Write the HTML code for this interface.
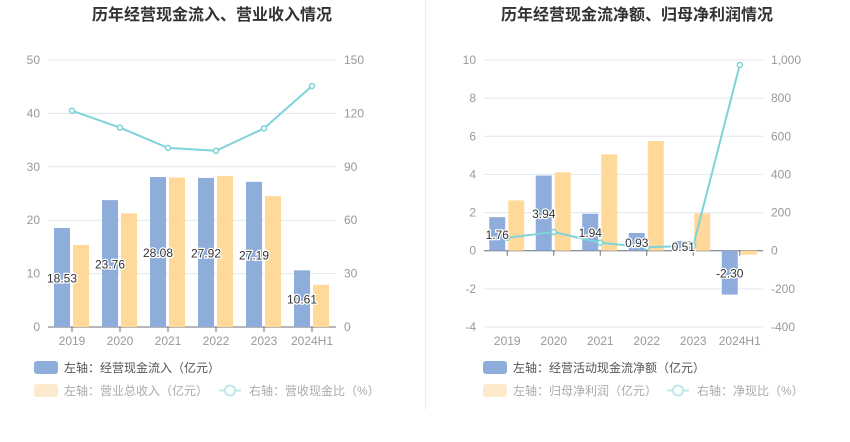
<!DOCTYPE html>
<html><head><meta charset="utf-8"><style>
body{margin:0;background:#fff;width:850px;height:437px;overflow:hidden;font-family:"Liberation Sans","Noto Sans CJK SC",sans-serif}
svg text{font-family:"Liberation Sans","Noto Sans CJK SC",sans-serif}
</style></head><body>
<svg id="c" width="850" height="437">
<line x1="425.5" y1="0" x2="425.5" y2="410" stroke="#eee"/>
</svg>
<script>
const cats=["2019","2020","2021","2022","2023","2024H1"];
const inflow=[18.53,23.76,28.08,27.92,27.19,10.61];
const revenue=[15.36,21.3,28.0,28.3,24.5,7.9];
const cashRatio=[121.5,112,100.6,99,111.6,135.4];
const leftTicksA=[0,10,20,30,40,50];
const rightTicksA=[0,30,60,90,120,150];
const netCash=[1.76,3.94,1.94,0.93,0.51,-2.30];
const netProfit=[2.64,4.11,5.05,5.75,1.96,-0.21];
const netRatio=[68,98,42,18,26,974];
const leftTicksB=[-4,-2,0,2,4,6,8,10];
const rightTicksB=[-400,-200,0,200,400,600,800,1000];
const svg=document.getElementById('c');
const NS="http://www.w3.org/2000/svg";
function mk(t,a,p){const e=document.createElementNS(NS,t);for(const k in a)e.setAttribute(k,a[k]);(p||svg).appendChild(e);return e;}
function txt(x,y,s,a){const e=mk('text',Object.assign({x:x,y:y},a));e.textContent=s;return e;}
function chart(o){
  const g=mk('g',{});
  
  
  const t=txt(o.cx,20,o.title,{'text-anchor':'middle','font-size':16,'font-weight':'bold',fill:'#333'});
  
  
  const top=60,bot=327,x0=o.x0,x1=o.x1,n=cats.length,bw=(x1-x0)/n;
  const yl=v=>bot-(v-o.lmin)/(o.lmax-o.lmin)*(bot-top);
  const yr=v=>bot-(v-o.rmin)/(o.rmax-o.rmin)*(bot-top);
  o.lt.forEach((v,i)=>{
    const y=yl(v);
    const l=mk('line',{x1:x0,x2:x1,y1:y,y2:y,stroke:'#e0e6f1'},g);
    
    
    const a=txt(x0-8,y+4,String(v),{'text-anchor':'end','font-size':12,fill:'#999'},g);
    
    
    const b=txt(x1+8,y+4,o.rt[i].toLocaleString('en-US'),{'text-anchor':'start','font-size':12,fill:'#999'},g);
    
    
  });
  const z=yl(0);
  const ax=mk('line',{x1:x0,x2:x1,y1:z,y2:z,stroke:'#6e7079'},g);
  
  
  cats.forEach((c,i)=>{
    const cx=x0+bw*(i+0.5);
    const tk=mk('line',{x1:cx,x2:cx,y1:z,y2:z+5,stroke:'#6e7079'},g);
    
    
    const l=txt(cx,345,c,{'text-anchor':'middle','font-size':12,fill:'#999'},g);
    
    
    const v1=o.s1[i],v2=o.s2[i];
    const b1=mk('rect',{x:cx-18,width:16,y:Math.min(yl(v1),z),height:Math.abs(yl(v1)-z),fill:'#8eaddb'},g);
    
    
    const b2=mk('rect',{x:cx+1,width:16,y:Math.min(yl(v2),z),height:Math.abs(yl(v2)-z),fill:'#ffd99a'},g);
    
    
  });
  let d='';
  o.s3.forEach((v,i)=>{d+=(i?'L':'M')+(x0+bw*(i+0.5))+' '+yr(v);});
  const ln=mk('path',{d:d,fill:'none',stroke:'#7dd3d8','stroke-width':2},g);
  
  
  o.s3.forEach((v,i)=>{
    const p=mk('circle',{cx:x0+bw*(i+0.5),cy:yr(v),r:2.5,fill:'#fff',stroke:'#7dd3d8','stroke-width':1.5},g);
    
    
  });
  o.s1.forEach((v,i)=>{
    const cx=x0+bw*(i+0.5)-10;
    const l=txt(cx,(yl(v)+z)/2+5,v.toFixed(2),{'text-anchor':'middle','font-size':12,fill:'#333',stroke:'#fff','stroke-width':2.5,'paint-order':'stroke'},g);
    
    
  });
  const lx=o.lx;
  const r1=mk('rect',{x:lx,y:361,width:24,height:13,rx:3,fill:'#8eaddb'},g);
  
  
  const t1=txt(lx+30,372,o.l1,{'font-size':12,fill:'#555'},g);
  
  
  const r2=mk('rect',{x:lx,y:384,width:24,height:13,rx:3,fill:'#fde9cc'},g);
  
  
  const t2=txt(lx+30,395,o.l2,{'font-size':12,fill:'#aaa'},g);
  
  
  const ll=mk('line',{x1:o.l3x,x2:o.l3x+22,y1:390.5,y2:390.5,stroke:'#bfe8ea','stroke-width':2},g);
  
  
  const lc=mk('circle',{cx:o.l3x+11,cy:390.5,r:5,fill:'#fff',stroke:'#bfe8ea','stroke-width':2},g);
  
  
  const t3=txt(o.l3x+30,395,o.l3,{'font-size':12,fill:'#aaa'},g);
  
  
}
chart({name:'left-chart',title:'历年经营现金流入、营业收入情况',cx:212,x0:48,x1:336,lmin:0,lmax:50,rmin:0,rmax:150,lt:leftTicksA,rt:rightTicksA,s1:inflow,s2:revenue,s3:cashRatio,k1:'inflow',k2:'revenue',k3:'cash-ratio',lx:34,l1:'左轴：经营现金流入（亿元）',l2:'左轴：营业总收入（亿元）',l3:'右轴：营收现金比（%）',l3x:219});
chart({name:'right-chart',title:'历年经营现金流净额、归母净利润情况',cx:637,x0:484,x1:763,lmin:-4,lmax:10,rmin:-400,rmax:1000,lt:leftTicksB,rt:rightTicksB,s1:netCash,s2:netProfit,s3:netRatio,k1:'net-cash',k2:'net-profit',k3:'net-ratio',lx:483,l1:'左轴：经营活动现金流净额（亿元）',l2:'左轴：归母净利润（亿元）',l3:'右轴：净现比（%）',l3x:667});
</script>
</body></html>
